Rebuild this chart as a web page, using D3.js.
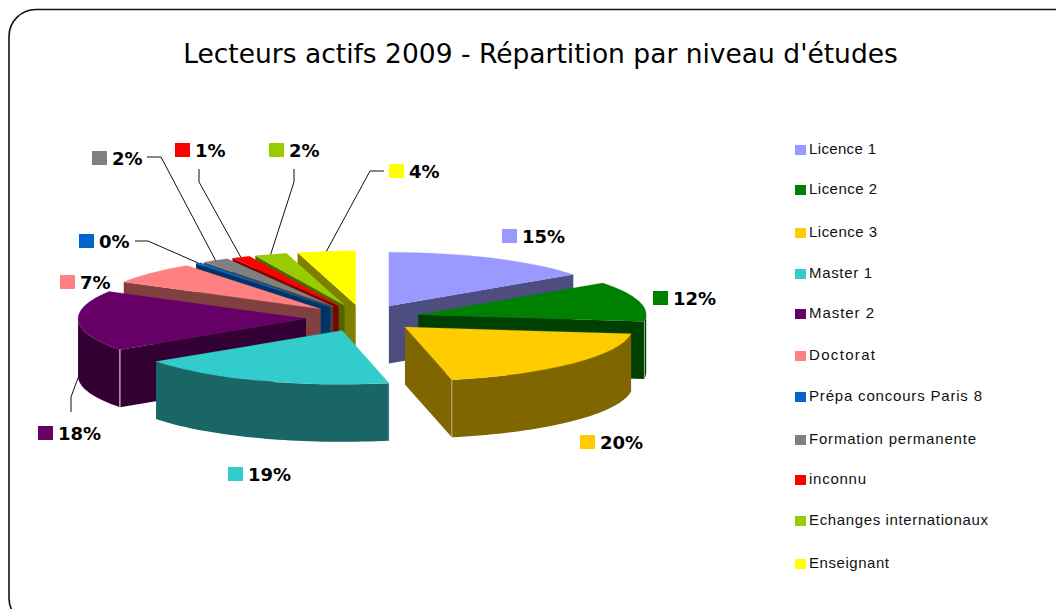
<!DOCTYPE html>
<html><head><meta charset="utf-8">
<style>html,body{margin:0;padding:0;background:#fff}svg{display:block}</style>
<script src="https://cdn.jsdelivr.net/npm/d3@7/dist/d3.min.js"></script>
</head><body><svg id="c" width="1056" height="609"></svg>
<script>
const title = "Lecteurs actifs 2009 - Répartition par niveau d'études";
const categories = ["Licence 1","Licence 2","Licence 3","Master 1","Master 2","Doctorat","Prépa concours Paris 8","Formation permanente","inconnu","Echanges internationaux","Enseignant"];
const values = [15,12,19.7,18.5,18.2,6.6,0.4,1.9,1.3,2.3,4.1];
const colors = ["#9999FF","#008000","#FFCC00","#33CCCC","#660066","#FF8080","#0066CC","#808080","#FF0000","#99CC00","#FFFF00"];
// layout
const legendY = [149,189,232,273,313,355,396,439,479,520,563];
const legendW = [67,68,68,63,65,66,173,167,57,179,80];
const labelPos = [[502,236],[653,298],[580,442],[228,474],[38,433],[60,282],[79,241],[92,158],[175,150],[269,150],[389,171]];
const leaders = {4:[[71,412],[71,397]],6:[[135,241],[148,241]],7:[[147,157],[161,157]],8:[[199,169],[199,182]],9:[[294,169],[294,182]],10:[[384,171],[370,171]]};
const cx=363, cy=318, R=228, tilt=0.236, explode=57, depth=57.5;

const svg=d3.select("#c");
svg.append("rect").attr("x",9).attr("y",9.5).attr("width",1073).attr("height",615.5).attr("rx",27).attr("ry",27)
  .attr("fill","#fff").attr("stroke","#111").attr("stroke-width",1.6);
svg.append("text").attr("x",540.5).attr("y",63).attr("text-anchor","middle")
  .attr("font-family","'Comic Sans MS','DejaVu Sans',sans-serif").attr("font-size",26.5).attr("fill","#000").text(title);

const pie=d3.pie().sort(null).value(d=>d)(values);
const half=c=>{const r=d3.rgb(c);return d3.rgb(r.r/2,r.g/2,r.b/2).formatHex();};
const arc=d3.arc().innerRadius(0).outerRadius(R);
const mid=d=>(d.startAngle+d.endAngle)/2;
const origin=d=>[cx+explode*Math.sin(mid(d)), cy-explode*tilt*Math.cos(mid(d))];
const proj=(o,a,r=R,h=0)=>[o[0]+r*Math.sin(a), o[1]-r*tilt*Math.cos(a)+h];

const order=pie.map((d,i)=>({d,i})).sort((a,b)=>Math.cos(mid(b.d))-Math.cos(mid(a.d)));
const chart=svg.append("g");
const radialWall=(o,a)=>{
  const top=proj(o,a),p=d3.path();
  p.moveTo(o[0],o[1]);p.lineTo(top[0],top[1]);p.lineTo(top[0],top[1]+depth);p.lineTo(o[0],o[1]+depth);p.closePath();
  return p.toString();
};
order.forEach(({d,i})=>{
  const g=chart.append("g"),o=origin(d),dark=half(colors[i]);
  if(Math.sin(d.endAngle-1e-6)>0.001 && d.endAngle<Math.PI*1.0001)
    g.append("path").attr("d",radialWall(o,d.endAngle)).attr("fill",dark);
  if(Math.sin(d.startAngle)<-0.001)
    g.append("path").attr("d",radialWall(o,d.startAngle)).attr("fill",dark);
  const a0=Math.max(d.startAngle,Math.PI/2),a1=Math.min(d.endAngle,Math.PI*1.5);
  if(a1>a0){
    const ang=d3.range(0,41).map(k=>a0+(a1-a0)*k/40);
    const area=d3.area().x(a=>proj(o,a)[0]).y0(a=>proj(o,a)[1]).y1(a=>proj(o,a)[1]+depth);
    g.append("path").attr("d",area(ang)).attr("fill",dark);
  }
  g.append("path").attr("transform",`translate(${o[0]},${o[1]}) scale(1,${tilt})`)
    .attr("d",arc(d)).attr("fill",colors[i]).attr("stroke",colors[i]).attr("stroke-width",0.4);
  const edgeA=d.endAngle<=Math.PI?d.endAngle:d.startAngle;
  const e=proj(o,edgeA);
  const showEdge=(edgeA>Math.PI/2&&edgeA<Math.PI*1.5);
  if(showEdge) g.append("line").attr("x1",e[0]).attr("x2",e[0]).attr("y1",e[1]).attr("y2",e[1]+depth)
    .attr("stroke","#fff").attr("stroke-opacity",i===4?0.95:0.45).attr("stroke-width",1);
});

const leaderLine=d3.line();
Object.keys(leaders).forEach(k=>{
  const i=+k,d=pie[i],o=origin(d),m=mid(d);
  const end=proj(o,m,R,i===4?depth*0.98:0);
  svg.append("path").attr("d",leaderLine([...leaders[k],end])).attr("fill","none").attr("stroke","#111").attr("stroke-width",1);
});

categories.forEach((c,i)=>{
  const [x,y]=labelPos[i];
  svg.append("rect").attr("x",x).attr("y",y-7).attr("width",15).attr("height",14).attr("fill",colors[i]);
  svg.append("text").attr("x",x+20).attr("y",y+7).attr("font-family","'Comic Sans MS','DejaVu Sans',sans-serif")
    .attr("font-weight","bold").attr("font-size",18).attr("fill","#000").text(Math.round(values[i])+"%");
});

categories.forEach((c,i)=>{
  svg.append("rect").attr("x",795).attr("y",legendY[i]-4).attr("width",11).attr("height",10).attr("fill",colors[i]);
  svg.append("text").attr("x",809).attr("y",legendY[i]+5).attr("font-family","'Liberation Sans',Arial,sans-serif")
    .attr("font-size",15).attr("textLength",legendW[i]).attr("lengthAdjust","spacing").attr("fill","#111").text(c);
});
</script></body></html>
